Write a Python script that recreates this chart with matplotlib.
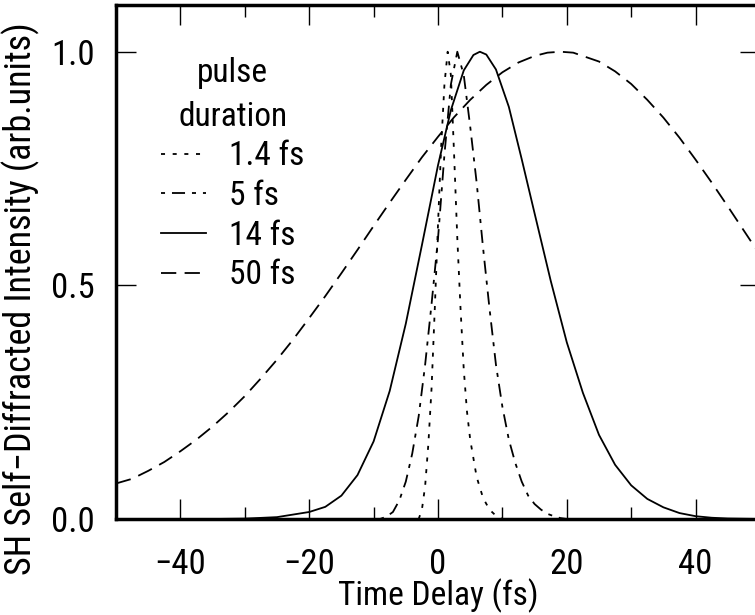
import matplotlib
matplotlib.use("Agg")
import matplotlib.pyplot as plt
from matplotlib import font_manager as fm

# Fuente estrecha si existe; si no, Liberation Sans más pequeña
disponibles = {f.name for f in fm.fontManager.ttflist}
estrecha = next((n for n in ['Liberation Sans Narrow', 'Roboto Condensed',
                             'Open Sans Condensed', 'Arial Narrow']
                 if n in disponibles), None)
if estrecha:
    plt.rcParams['font.family'] = [estrecha, 'DejaVu Sans']
    fs_tick, fs_lab, fs_ylab, fs_leg = 25, 24, 26, 24
else:
    plt.rcParams['font.family'] = ['Liberation Sans', 'DejaVu Sans']
    fs_tick, fs_lab, fs_ylab, fs_leg = 21, 20.5, 22, 20.5
plt.rcParams['lines.scale_dashes'] = False

# Datos (retardo en fs, intensidad normalizada)
t_14 = [-3.0, -2.5, -2.0, -1.5, -1.0, -0.5, 0.0, 0.5, 1.0, 1.5, 2.0, 2.5, 3.0,
        3.5, 4.0, 4.5, 5.0, 6.0, 7.0, 8.0, 9.0, 10.0]
i_14 = [0.0, 0.02, 0.07, 0.16, 0.28, 0.45, 0.63, 0.80, 0.93, 1.0, 0.95, 0.78, 0.60,
        0.45, 0.32, 0.23, 0.17, 0.09, 0.045, 0.02, 0.007, 0.0]

t_5 = [-9, -8, -7, -6, -5, -4, -3, -2, -1, 0, 1, 2, 3, 4, 5, 6, 7, 8, 9, 10,
       11, 12, 13, 14, 15, 16, 17, 18, 19, 20]
i_5 = [0.0, 0.005, 0.015, 0.04, 0.08, 0.14, 0.22, 0.33, 0.46, 0.60, 0.78, 0.93, 1.0,
       0.95, 0.84, 0.72, 0.58, 0.45, 0.33, 0.24, 0.17, 0.12, 0.08, 0.05, 0.032,
       0.02, 0.011, 0.006, 0.002, 0.0]

t_140 = [-35, -30, -25, -20, -17.5, -15, -12.5, -10, -7.5, -5, -2.5, 0, 2, 4, 5.5,
         6.5, 7.5, 9, 11, 13, 15, 17.5, 20, 22.5, 25, 27.5, 30, 32.5, 35, 37.5,
         40, 42.5, 45, 50]
i_140 = [0.0, 0.0008, 0.004, 0.015, 0.026, 0.05, 0.094, 0.166, 0.274, 0.418, 0.586,
         0.757, 0.875, 0.96, 0.993, 1.0, 0.994, 0.962, 0.882, 0.77, 0.654, 0.51,
         0.378, 0.27, 0.18, 0.116, 0.072, 0.043, 0.025, 0.0127, 0.006, 0.0027,
         0.001, 0.0]

t_500 = [-50, -47.5, -45, -42.5, -40, -37.5, -35, -32.5, -30, -27.5, -25, -22.5,
         -20, -17.5, -15, -12.5, -10, -7.5, -5, -2.5, 0, 2.5, 5, 7.5, 10, 12.5,
         15, 17, 19, 21, 25, 27.5, 30, 32.5, 35, 37.5, 40, 42.5, 45, 47.5, 50]
i_500 = [0.076, 0.086, 0.103, 0.122, 0.145, 0.17, 0.198, 0.229, 0.263, 0.301,
         0.341, 0.384, 0.430, 0.477, 0.526, 0.576, 0.627, 0.677, 0.726, 0.774,
         0.818, 0.86, 0.897, 0.929, 0.956, 0.977, 0.991, 0.998, 1.0, 0.998,
         0.979, 0.958, 0.931, 0.897, 0.859, 0.816, 0.769, 0.72, 0.669, 0.617,
         0.565]

etiquetas = ['1.4 fs', '5 fs', '14 fs', '50 fs']
estilos = [(0, (2.9, 5.5)), (0, (2.9, 5.0, 9.4, 5.0)), '-', (0, (11.0, 6.0))]

fig = plt.figure(figsize=(7.55, 6.15), dpi=100)
ax = fig.add_axes([116 / 755, 96 / 615, 644 / 755, 514 / 615])

series = [(t_14, i_14), (t_5, i_5), (t_140, i_140), (t_500, i_500)]
for (t, i), lab, ls in zip(series, etiquetas, estilos):
    ax.plot(t, i, color='black', linewidth=1.3, linestyle=ls, label=lab)

ax.set_xlim(-50, 50)
ax.set_ylim(0, 1.1)
ax.set_xticks([-40, -20, 0, 20, 40])
ax.set_xticks([-30, -10, 10, 30], minor=True)
ax.set_yticks([0.0, 0.5, 1.0])
ax.set_yticklabels(['0.0', '0.5', '1.0'])

ax.tick_params(which='both', direction='in', top=True, right=True, width=1.0)
ax.tick_params(which='major', length=14.4)
ax.tick_params(which='minor', length=8.6)
ax.tick_params(axis='x', which='both', labelsize=fs_tick, pad=21)
ax.tick_params(axis='y', which='both', labelsize=fs_tick, pad=15)
for s in ax.spines.values():
    s.set_linewidth(2.5)

ax.set_xlabel('Time Delay (fs)', fontsize=fs_lab, labelpad=-1.8)
ax.set_ylabel('SH Self\u2212Diffracted Intensity (arb.units)', fontsize=fs_ylab)
ax.yaxis.set_label_coords(-0.118, 0.428)

leg = ax.legend(title='pulse\nduration', frameon=False, loc='upper left',
                bbox_to_anchor=(0.0495, 0.924), fontsize=fs_leg,
                title_fontsize=fs_leg, handlelength=1.35, handletextpad=0.67,
                labelspacing=0.23, borderaxespad=0)
leg.get_title().set_multialignment('center')
leg.get_title().set_linespacing(1.45)

plt.savefig('out.png', dpi=100)
